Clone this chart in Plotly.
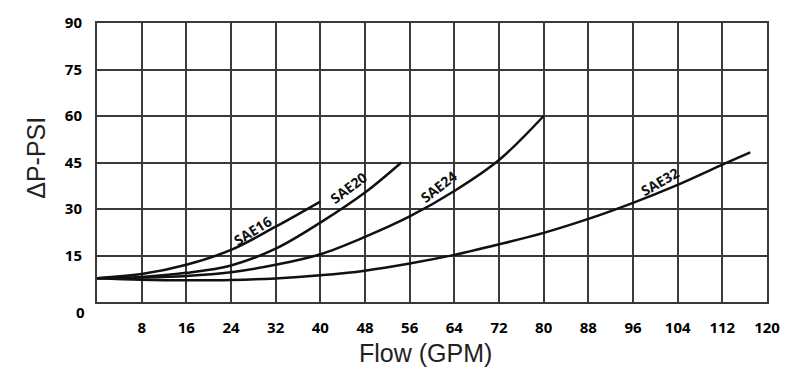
import plotly.graph_objects as go

# ---- data ----
sae16_x = [0, 8, 16, 24, 32, 40]
sae16_y = [7.7, 9.0, 12.0, 16.8, 24.3, 32.4]

sae20_x = [0, 8, 16, 24, 32, 40, 48, 54.5]
sae20_y = [7.7, 8.1, 9.4, 11.8, 17.2, 25.6, 35.3, 45.0]

sae24_x = [0, 8, 16, 24, 32, 40, 48, 56, 64, 72, 80]
sae24_y = [7.7, 7.9, 8.4, 9.6, 12.0, 15.4, 21.0, 27.6, 35.8, 45.8, 60.0]

sae32_x = [0, 8, 16, 24, 32, 40, 48, 56, 64, 72, 80, 88, 96, 104, 112, 117]
sae32_y = [7.7, 7.2, 7.0, 7.1, 7.6, 8.6, 10.1, 12.4, 15.2, 18.6, 22.3, 26.8, 32.0, 37.8, 44.3, 48.3]

x_ticks = [8, 16, 24, 32, 40, 48, 56, 64, 72, 80, 88, 96, 104, 112, 120]
y_ticks = [15, 30, 45, 60, 75, 90]

series = [
    ("SAE16", sae16_x, sae16_y),
    ("SAE20", sae20_x, sae20_y),
    ("SAE24", sae24_x, sae24_y),
    ("SAE32", sae32_x, sae32_y),
]

# label placement (data coords) and angle
label_pos = {
    "SAE16": (27.9, 23.0, -32),
    "SAE20": (45.1, 36.8, -37),
    "SAE24": (61.2, 37.2, -38),
    "SAE32": (100.8, 39.0, -30),
}

fig = go.Figure()
for name, xs, ys in series:
    fig.add_trace(go.Scatter(
        x=xs, y=ys, mode="lines", name=name,
        line=dict(color="#111111", width=2.5, shape="spline", smoothing=1.0),
        showlegend=False, hoverinfo="skip",
    ))

tick_font = dict(family="Open Sans", size=15, color="#000000", weight="bold")
grid_col = "#3a3a3a"

annotations = []
for name, (ax, ay, ang) in label_pos.items():
    annotations.append(dict(
        x=ax, y=ay, xref="x", yref="y", text=name, showarrow=False,
        textangle=ang, font=dict(family="Open Sans", size=14, color="#111111", weight="bold"),
    ))

# "0" label below the y axis
annotations.append(dict(
    x=0, y=0, xref="paper", yref="y", text="0", showarrow=False,
    xanchor="right", yanchor="middle", xshift=-10, yshift=-10,
    font=tick_font,
))
# axis titles
annotations.append(dict(
    x=-0.091, y=0.517, xref="paper", yref="paper", text="ΔP-PSI", showarrow=False,
    textangle=-90, xanchor="center", yanchor="middle",
    font=dict(family="Liberation Sans", size=25, color="#222222"),
))
annotations.append(dict(
    x=0.491, y=-0.183, xref="paper", yref="paper", text="Flow (GPM)", showarrow=False,
    xanchor="center", yanchor="middle",
    font=dict(family="Liberation Sans", size=25, color="#222222"),
))

# page body has an 8px margin, so the figure is sized/offset to compensate
fig.update_layout(
    width=792, height=383,
    margin=dict(l=89, r=33, t=15, b=89),
    paper_bgcolor="white", plot_bgcolor="white",
    annotations=annotations,
    xaxis=dict(
        range=[0, 120], tickvals=x_ticks, ticktext=[str(v) for v in x_ticks],
        showgrid=True, gridcolor=grid_col, gridwidth=1.5,
        showline=True, linecolor=grid_col, linewidth=2, mirror=True,
        zeroline=False, ticks="", tickfont=tick_font, ticklabelstandoff=11,
        fixedrange=True, automargin=False,
    ),
    yaxis=dict(
        range=[0, 90], tickvals=y_ticks, ticktext=[str(v) for v in y_ticks],
        showgrid=True, gridcolor=grid_col, gridwidth=1.5,
        showline=True, linecolor=grid_col, linewidth=2, mirror=True,
        zeroline=False, ticks="", tickfont=tick_font, ticklabelstandoff=10,
        fixedrange=True, automargin=False,
    ),
)

fig.write_html("out.html")
